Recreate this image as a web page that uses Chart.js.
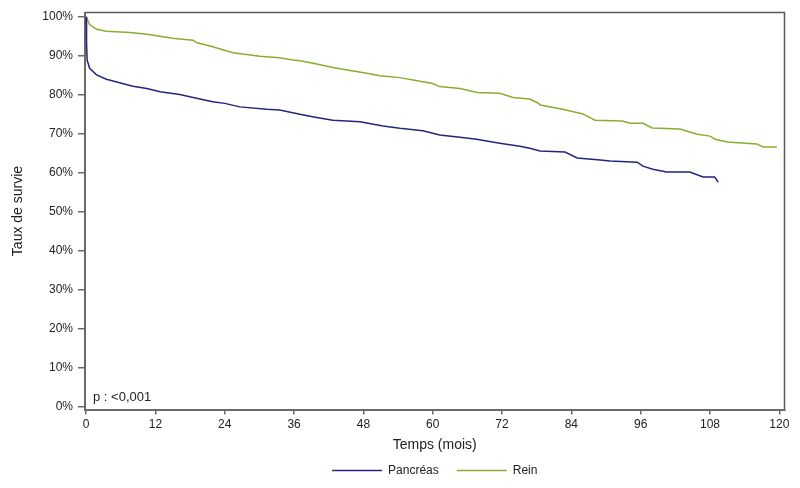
<!DOCTYPE html>
<html>
<head>
<meta charset="utf-8">
<script src="https://cdn.jsdelivr.net/npm/chart.js@4/dist/chart.umd.min.js"></script>
<style>
  html, body { margin: 0; padding: 0; background: #fff; }
  #wrap { width: 800px; height: 488px; }
</style>
</head>
<body>
<div id="wrap"><canvas id="km"></canvas></div>
<script>
// survival curves (months, % surviving)
const pancreasMonths = [0, 0.07, 0.17, 0.6, 1.8, 3.5, 5.8, 8.1, 10.5, 12.8, 16.2, 19.1, 21.9, 24, 26.6, 31.3, 33.5, 37, 39.9, 42.7, 47.4, 51.4, 54.3, 58.3, 61.2, 64.7, 67.6, 71.6, 75.1, 76.8, 78.6, 82.9, 85, 89, 90.7, 95.4, 96.4, 98.1, 100.5, 104.5, 106.8, 108.8, 109.2, 109.4];
const pancreasSurvival = [100, 93.3, 88.9, 86.8, 85.1, 84.0, 83.1, 82.2, 81.6, 80.8, 80.1, 79.1, 78.2, 77.8, 76.9, 76.3, 76.1, 75.0, 74.2, 73.5, 73.1, 72.0, 71.4, 70.8, 69.7, 69.1, 68.6, 67.6, 66.8, 66.3, 65.6, 65.3, 63.8, 63.3, 63.0, 62.7, 61.7, 60.9, 60.2, 60.2, 58.9, 58.9, 58.1, 57.6];

const reinMonths = [0, 0.6, 1.8, 3.5, 7.6, 10.5, 13.3, 15, 18.5, 19.1, 21.9, 25.4, 30.1, 33.5, 35.8, 37, 39.3, 42.7, 45.7, 48.6, 50.9, 54.3, 57.3, 60, 61.2, 64.7, 67.7, 71.6, 73.9, 76.8, 78.2, 78.6, 82.5, 86, 88.1, 92.8, 94.2, 96.4, 98, 102.8, 105.8, 108, 108.9, 111, 116.1, 117.2, 119.6];
const reinSurvival = [100, 98.0, 96.8, 96.3, 96.0, 95.5, 94.9, 94.5, 94.0, 93.4, 92.3, 90.8, 89.9, 89.5, 88.9, 88.7, 88.1, 87.0, 86.2, 85.5, 84.9, 84.4, 83.6, 82.9, 82.1, 81.6, 80.6, 80.4, 79.3, 78.9, 77.9, 77.4, 76.3, 75.1, 73.5, 73.3, 72.7, 72.7, 71.5, 71.2, 69.9, 69.4, 68.6, 67.9, 67.4, 66.6, 66.6];

const seriesNames = ['Pancréas', 'Rein'];
const monthTicks = [0, 12, 24, 36, 48, 60, 72, 84, 96, 108, 120];
const pValueText = 'p : <0,001';

const toPoints = (xs, ys) => xs.map((x, i) => ({ x: x, y: ys[i] }));

const font = 'Arial, "Liberation Sans", sans-serif';

// top/right frame of the plot and the p-value note
const framePlugin = {
  id: 'frame',
  afterDraw(chart) {
    const { ctx, chartArea: a } = chart;
    ctx.save();
    ctx.strokeStyle = '#5a5a5a';
    ctx.lineWidth = 1.5;
    ctx.beginPath();
    ctx.moveTo(a.left, a.top);
    ctx.lineTo(a.right, a.top);
    ctx.lineTo(a.right, a.bottom);
    ctx.stroke();
    ctx.fillStyle = '#222';
    ctx.font = '13px ' + font;
    ctx.textBaseline = 'middle';
    ctx.fillText(pValueText, a.left + 8, a.bottom - 12.5);
    ctx.restore();
  },
};

new Chart(document.getElementById('km'), {
  type: 'line',
  data: {
    datasets: [
      {
        label: seriesNames[0],
        data: toPoints(pancreasMonths, pancreasSurvival),
        borderColor: '#25257b',
        backgroundColor: '#25257b',
        borderWidth: 1.5,
        pointRadius: 0,
        tension: 0,
      },
      {
        label: seriesNames[1],
        data: toPoints(reinMonths, reinSurvival),
        borderColor: '#8bad2f',
        backgroundColor: '#8bad2f',
        borderWidth: 1.5,
        pointRadius: 0,
        tension: 0,
      },
    ],
  },
  options: {
    responsive: true,
    maintainAspectRatio: false,
    animation: false,
    layout: { padding: { left: 0, right: 15.5, top: 12.5, bottom: 1.5 } },
    plugins: {
      tooltip: { enabled: false },
      legend: {
        position: 'bottom',
        fullSize: false,
        labels: {
          usePointStyle: true,
          pointStyle: 'line',
          pointStyleWidth: 50,
          padding: 18,
          color: '#222',
          font: { family: font, size: 12 },
        },
      },
    },
    scales: {
      x: {
        type: 'linear',
        min: -0.2,
        max: 120.9,
        afterFit: (s) => { s.height = 37; },
        afterBuildTicks: (s) => { s.ticks = monthTicks.map((v) => ({ value: v })); },
        border: { display: true, color: '#6a6a6a', width: 2 },
        grid: { display: true, drawOnChartArea: false, tickLength: 5, color: '#6a6a6a', lineWidth: 1.5 },
        ticks: { color: '#222', font: { family: font, size: 12 }, padding: 3, maxRotation: 0 },
        title: {
          display: true,
          text: 'Temps (mois)',
          color: '#222',
          font: { family: font, size: 14 },
          padding: { top: 0, bottom: -7 },
        },
      },
      y: {
        min: -0.7,
        max: 101.1,
        afterFit: (s) => { s.width = 85; },
        afterBuildTicks: (s) => {
          const t = [];
          for (let v = 0; v <= 100; v += 10) t.push({ value: v });
          s.ticks = t;
        },
        border: { display: true, color: '#6a6a6a', width: 2 },
        grid: { display: true, drawOnChartArea: false, tickLength: 7, color: '#6a6a6a', lineWidth: 1.5 },
        ticks: {
          color: '#222',
          font: { family: font, size: 12 },
          padding: 5,
          callback: (v) => v + '%',
        },
        title: {
          display: true,
          text: 'Taux de survie',
          color: '#222',
          font: { family: font, size: 14 },
          padding: { top: 10, bottom: 0 },
        },
      },
    },
  },
  plugins: [framePlugin],
});
</script>
</body>
</html>
